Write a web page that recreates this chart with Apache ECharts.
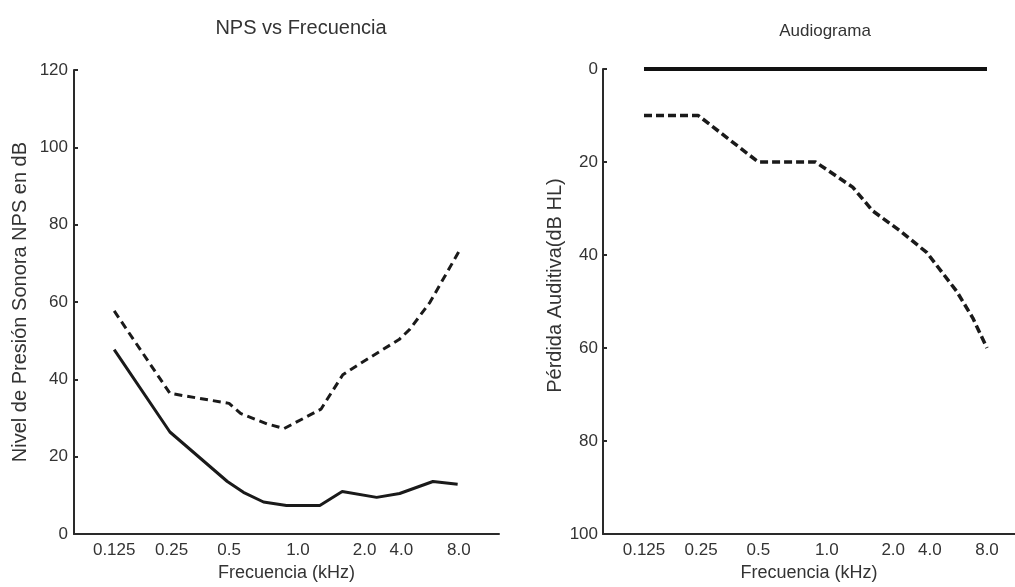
<!DOCTYPE html>
<html>
<head>
<meta charset="utf-8">
<script src="https://cdn.jsdelivr.net/npm/echarts@6/dist/echarts.min.js"></script>
<style>
html,body{margin:0;padding:0;background:#fff;}
#c{width:1015px;height:587px;}
</style>
</head>
<body>
<div id="c"></div>
<script>
// Frequency tick labels and their positions (octave position units)
const freqLabels = ['0.125', '0.25', '0.5', '1.0', '2.0', '4.0', '8.0'];
const freqLabelPos = [0, 1, 2, 3.2, 4.36, 5, 6];

// Left chart: NPS vs Frecuencia
const npsSolidX = [0, 0.97, 1.97, 2.25, 2.6, 3.0, 3.58, 3.97, 4.57, 4.97, 5.55, 5.98];
const npsSolidY = [47.7, 26.4, 13.6, 10.8, 8.3, 7.4, 7.4, 11, 9.5, 10.5, 13.6, 12.9];
const npsDashX = [0, 0.97, 2.0, 2.2, 2.66, 2.96, 3.6, 3.98, 4.25, 4.96, 5.15, 5.5, 6.0];
const npsDashY = [57.7, 36.4, 33.8, 31.2, 28.5, 27.3, 32.3, 41.2, 43.8, 50.3, 53, 60, 73];

// Right chart: Audiograma
const audSolidX = [0, 1, 2, 3, 4, 5, 6];
const audSolidY = [0, 0, 0, 0, 0, 0, 0];
const audDashX = [0, 0.95, 2, 3, 3.65, 4, 4.48, 4.95, 5.47, 5.75, 6];
const audDashY = [10, 10, 20, 20, 25.4, 30.5, 34.8, 39.5, 47.8, 53.5, 60];

const pairs = (xs, ys) => xs.map((x, i) => [x, ys[i]]);
const FONT = '"Liberation Sans", Arial, sans-serif';
const TXT = '#333';
const AX = '#2a2a2a';

function labelFmt(v) {
  for (let i = 0; i < freqLabelPos.length; i++) {
    if (Math.abs(freqLabelPos[i] - v) < 1e-6) return freqLabels[i];
  }
  return '';
}

function xAxisCfg(gridIndex, min, max) {
  return {
    type: 'value', gridIndex, min, max,
    name: 'Frecuencia (kHz)', nameLocation: 'middle', nameGap: 28,
    nameTextStyle: {fontFamily: FONT, fontSize: 18, color: TXT},
    axisLine: {show: true, onZero: false, lineStyle: {color: AX, width: 2}},
    axisTick: {show: false},
    splitLine: {show: false},
    axisLabel: {
      customValues: freqLabelPos, formatter: labelFmt,
      fontFamily: FONT, fontSize: 17, color: TXT, margin: 8
    }
  };
}

function yAxisCfg(gridIndex, max, inverse, name, gap, pad, margin) {
  return {
    type: 'value', gridIndex, min: 0, max, interval: 20, inverse,
    name, nameLocation: 'middle', nameGap: gap,
    nameTextStyle: {fontFamily: FONT, fontSize: 20, color: TXT, padding: pad},
    axisLine: {show: true, onZero: false, lineStyle: {color: AX, width: 2}},
    axisTick: {show: true, inside: true, length: 4, lineStyle: {color: AX, width: 2}},
    splitLine: {show: false},
    axisLabel: {fontFamily: FONT, fontSize: 17, color: TXT, margin}
  };
}

const chart = echarts.init(document.getElementById('c'), null, {renderer: 'canvas'});
chart.setOption({
  animation: false,
  backgroundColor: '#fff',
  title: [
    {text: 'NPS vs Frecuencia', left: 296, top: 13, textAlign: 'center',
     textStyle: {fontFamily: FONT, fontSize: 20, fontWeight: 'normal', color: TXT}},
    {text: 'Audiograma', left: 820, top: 18, textAlign: 'center',
     textStyle: {fontFamily: FONT, fontSize: 17, fontWeight: 'normal', color: TXT}}
  ],
  grid: [
    {left: 74, top: 70, width: 425, height: 468},
    {left: 603, top: 69, width: 412, height: 469}
  ],
  xAxis: [
    xAxisCfg(0, -0.7, 6.7),
    xAxisCfg(1, -0.717, 6.49)
  ],
  yAxis: [
    yAxisCfg(0, 120, false, 'Nivel de Presión Sonora NPS en dB', 44, [0, 0, 0, 0], 6),
    yAxisCfg(1, 100, true, 'Pérdida Auditiva(dB HL)', 38, [0, 0, 0, 32], 5)
  ],
  series: [
    {type: 'line', xAxisIndex: 0, yAxisIndex: 0, data: pairs(npsSolidX, npsSolidY),
     showSymbol: false, lineStyle: {color: '#1a1a1a', width: 3}},
    {type: 'line', xAxisIndex: 0, yAxisIndex: 0, data: pairs(npsDashX, npsDashY),
     showSymbol: false, lineStyle: {color: '#1a1a1a', width: 3, type: [8, 5]}},
    {type: 'line', xAxisIndex: 1, yAxisIndex: 1, data: pairs(audSolidX, audSolidY),
     showSymbol: false, lineStyle: {color: '#111', width: 4}},
    {type: 'line', xAxisIndex: 1, yAxisIndex: 1, data: pairs(audDashX, audDashY),
     showSymbol: false, lineStyle: {color: '#1a1a1a', width: 3.5, type: [8, 4]}}
  ]
});
</script>
</body>
</html>
